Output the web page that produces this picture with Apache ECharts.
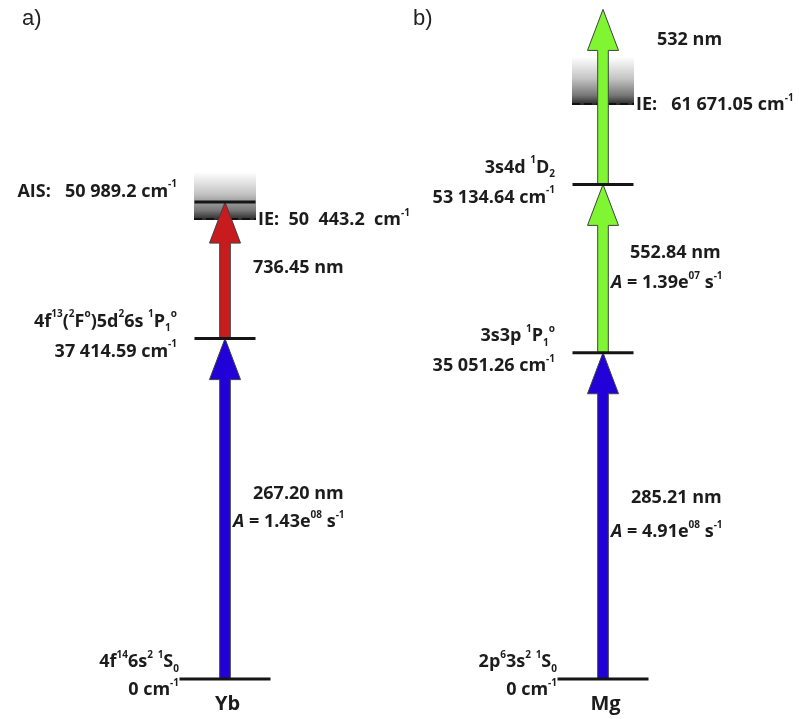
<!DOCTYPE html>
<html>
<head>
<meta charset="utf-8">
<script src="https://cdn.jsdelivr.net/npm/echarts@6/dist/echarts.min.js"></script>
<style>html,body{margin:0;padding:0;background:#fff}#chart{width:799px;height:719px}</style>
</head>
<body>
<div id="chart"></div>
<script>
// ===================== DATA =====================
const panelLabels = ['a)', 'b)'];
const atoms = ['Yb', 'Mg'];

// Yb — level energies (cm^-1), terms and printed values
const ybLevelEnergy = [0, 37414.59, 50989.2];
const ybLevelTerm = ['4f{p|14}6s{p|2} {p|1}S{b|0}', '4f{p|13}({p|2}F{p|o})5d{p|2}6s {p|1}P{b|1}{p|o}', 'AIS'];
const ybLevelText = ['0', '37 414.59', '50 989.2'];
const ybIonizationEnergy = 50443.2;
const ybIonizationText = '  50  443.2 ';
// Yb — transitions (level index from -> to), wavelength (nm), Einstein A
const ybTransFrom = [0, 1];
const ybTransTo = [1, 2];
const ybWavelength = ['267.20', '736.45'];
const ybRateMantissa = ['1.43', null];
const ybRateExponent = ['08', null];

// Mg — level energies (cm^-1), terms and printed values
const mgLevelEnergy = [0, 35051.26, 53134.64];
const mgLevelTerm = ['2p{p|6}3s{p|2} {p|1}S{b|0}', '3s3p {p|1}P{b|1}{p|o}', '3s4d {p|1}D{b|2}'];
const mgLevelText = ['0', '35 051.26', '53 134.64'];
const mgIonizationEnergy = 61671.05;
const mgIonizationText = '   61 671.05';
// Mg — transitions (to = -1: into the continuum, length = photon energy)
const mgTransFrom = [0, 1, 2];
const mgTransTo = [1, 2, -1];
const mgWavelength = ['285.21', '552.84', '532'];
const mgRateMantissa = ['4.91', '1.39', null];
const mgRateExponent = ['08', '07', null];

// ===================== STYLE / LAYOUT =====================
const FONT = '"Open Sans", "Liberation Sans", sans-serif';
const TXT = '#1c1c1c';
const rich = {
  p: { fontFamily: FONT, fontWeight: 'bold', fontSize: 10, lineHeight: 10, verticalAlign: 'top', fill: TXT },
  b: { fontFamily: FONT, fontWeight: 'bold', fontSize: 10, lineHeight: 13, verticalAlign: 'bottom', fill: TXT },
  i: { fontFamily: FONT, fontWeight: 'bold', fontStyle: 'italic', fontSize: 18, lineHeight: 24, fill: TXT }
};
const panels = [
  {
    atom: atoms[0], E: ybLevelEnergy, term: ybLevelTerm, val: ybLevelText,
    ie: ybIonizationEnergy, ieText: ybIonizationText,
    from: ybTransFrom, to: ybTransTo, wl: ybWavelength, rm: ybRateMantissa, re: ybRateExponent,
    // layout
    gridLeft: 125, yMax: 74193, lift: [0, 0, 13],
    colors: ['#2200d8', '#c81b1d'],
    labels: [{ wx: 28, wy: -14.8, ay: 13.5 }, { wx: 28, wy: -2.3 }]
  },
  {
    atom: atoms[1], E: mgLevelEnergy, term: mgLevelTerm, val: mgLevelText,
    ie: mgIonizationEnergy, ieText: mgIonizationText,
    from: mgTransFrom, to: mgTransTo, wl: mgWavelength, rm: mgRateMantissa, re: mgRateExponent,
    gridLeft: 503, yMax: 72514, lift: [0, 0, 0],
    colors: ['#2200d8', '#80f532', '#80f532'],
    labels: [{ wx: 28, wy: -17.6, ay: 15.8 }, { wx: 27, wy: -15.3, ay: 14.7 }, { wx: 54, wy: -57 }]
  }
];

function txt(x, y, text, align) {
  return {
    type: 'text', z2: 20,
    style: {
      text: text, x: x, y: y, align: align, verticalAlign: 'middle',
      fontFamily: FONT, fontWeight: 'bold', fontSize: 18, lineHeight: 24, fill: TXT, rich: rich
    }
  };
}

const grids = [], xAxes = [], yAxes = [], series = [];
panels.forEach(function (d, g) {
  grids.push({ left: d.gridLeft, width: 200, top: 4, bottom: 40 });
  xAxes.push({
    type: 'category', gridIndex: g, data: [d.atom],
    axisLine: { show: false }, axisTick: { show: false }, splitLine: { show: false },
    axisLabel: { fontFamily: FONT, fontWeight: 'bold', fontSize: 20, color: TXT, margin: 15, padding: [0, 0, 0, 5] }
  });
  yAxes.push({ type: 'value', gridIndex: g, min: 0, max: d.yMax, show: false });

  // Ionization continuum band
  series.push({
    type: 'custom', xAxisIndex: g, yAxisIndex: g, z: 1, silent: true,
    data: [[0, d.ie]],
    renderItem: function (params, api) {
      const p = api.coord([0, api.value(1)]);
      const cx = p[0], y = p[1], hw = 31, h = 48;
      return {
        type: 'group', children: [
          { type: 'rect', shape: { x: cx - hw, y: y - h, width: hw * 2, height: h },
            style: { fill: { type: 'linear', x: 0, y: 0, x2: 0, y2: 1, colorStops: [
              { offset: 0, color: '#ffffff' }, { offset: 0.45, color: '#c4c4c4' },
              { offset: 0.8, color: '#777777' }, { offset: 1, color: '#262626' }] } } },
          { type: 'line', shape: { x1: cx - hw, y1: y - 1, x2: cx + hw, y2: y - 1 },
            style: { stroke: '#111', lineWidth: 2, lineDash: [8, 4] } },
          txt(cx + 33, y, 'IE:' + d.ieText + ' cm{p|-1}', 'left')
        ]
      };
    }
  });

  // Transition arrows
  series.push({
    type: 'custom', xAxisIndex: g, yAxisIndex: g, z: 2, silent: true,
    data: d.from.map(function (f, i) {
      const top = d.to[i] >= 0 ? d.E[d.to[i]] : d.E[f] + 1e7 / Number(d.wl[i]);
      return [0, d.E[f], top];
    }),
    renderItem: function (params, api) {
      const i = params.dataIndex;
      const cx = api.coord([0, 0])[0];
      const y0 = api.coord([0, api.value(1)])[1] - d.lift[d.from[i]];
      const y1 = api.coord([0, api.value(2)])[1] - (d.to[i] >= 0 ? d.lift[d.to[i]] : 0);
      const sw = 5.3, hw = 15.5, hl = 41;
      const pts = [[cx - sw, y0], [cx - sw, y1 + hl], [cx - hw, y1 + hl], [cx, y1],
                   [cx + hw, y1 + hl], [cx + sw, y1 + hl], [cx + sw, y0]];
      const mid = (y0 + y1) / 2, lab = d.labels[i];
      const children = [
        { type: 'polygon', shape: { points: pts }, style: { fill: d.colors[i], stroke: '#404040', lineWidth: 1 } },
        txt(cx + lab.wx, mid + lab.wy, d.wl[i] + ' nm', 'left')
      ];
      if (d.rm[i]) {
        children.push(txt(cx + 8, mid + lab.ay, '{i|A} = ' + d.rm[i] + 'e{p|' + d.re[i] + '} s{p|-1}', 'left'));
      }
      return { type: 'group', children: children };
    }
  });

  // Energy levels
  series.push({
    type: 'custom', xAxisIndex: g, yAxisIndex: g, z: 3, silent: true,
    data: d.E.map(function (e) { return [0, e]; }),
    renderItem: function (params, api) {
      const i = params.dataIndex;
      const cx = api.coord([0, 0])[0];
      const y = api.coord([0, api.value(1)])[1] - d.lift[i];
      const half = i === 0 ? 45.5 : 30.5;
      const rx = cx - (i === 0 ? 46 : 48);
      const children = [{ type: 'line', shape: { x1: cx - half, y1: y, x2: cx + half, y2: y },
                          style: { stroke: '#151515', lineWidth: 3 } }];
      if (d.term[i] === 'AIS') {
        children.push(txt(rx, y - 10.5, 'AIS:   ' + d.val[i] + ' cm{p|-1}', 'right'));
      } else {
        children.push(txt(rx, y - 17, d.term[i], 'right'));
        children.push(txt(rx, y + (i === 0 ? 11 : 13), d.val[i] + ' cm{p|-1}', 'right'));
      }
      return { type: 'group', children: children };
    }
  });
});

const chart = echarts.init(document.getElementById('chart'), null, { renderer: 'canvas' });
chart.setOption({
  animation: false,
  backgroundColor: '#ffffff',
  title: panelLabels.map(function (t, k) {
    return { text: t, left: k === 0 ? 22 : 413, top: 8, padding: 0,
             textStyle: { fontFamily: '"Liberation Sans", Arial, sans-serif', fontWeight: 'normal', fontSize: 22, color: '#222' } };
  }),
  grid: grids, xAxis: xAxes, yAxis: yAxes, series: series
});
</script>
</body>
</html>
